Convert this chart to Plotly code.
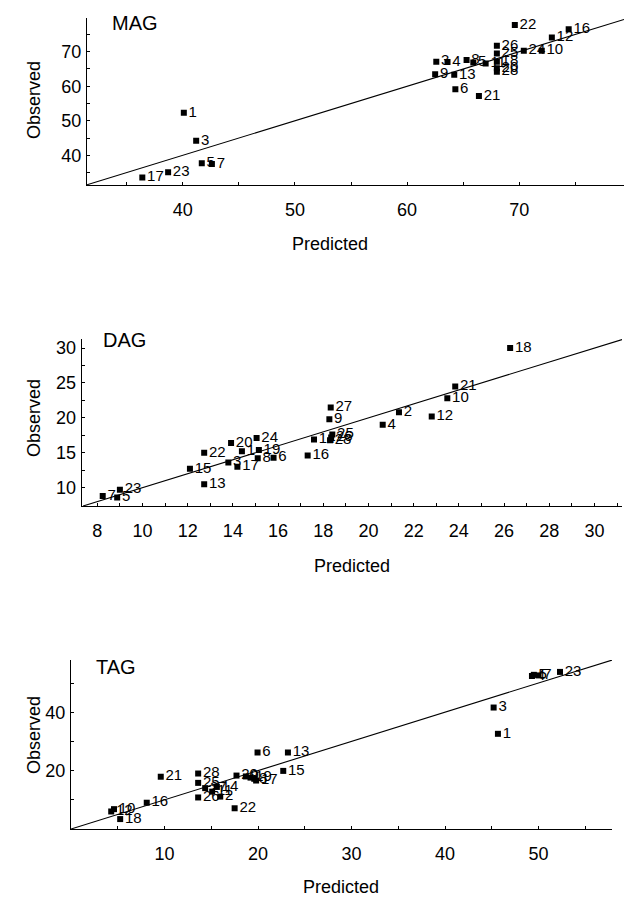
import plotly.graph_objects as go

W, H = 626, 898

# ---------------- data ----------------
mag_labels = ["1", "3", "5", "7", "17", "23",
              "22", "16", "12", "10", "24",
              "26", "25", "18", "20", "28",
              "3", "4", "8", "5", "11",
              "9", "13", "6", "21"]
mag_predicted = [40.1, 41.2, 41.7, 42.6, 36.4, 38.7,
                 69.6, 74.4, 72.9, 72.0, 70.4,
                 68.0, 68.0, 68.0, 68.0, 68.0,
                 62.6, 63.6, 65.3, 65.9, 67.0,
                 62.5, 64.2, 64.3, 66.4]
mag_observed = [52.3, 44.2, 37.7, 37.5, 33.6, 35.1,
                77.7, 76.5, 74.1, 70.3, 70.3,
                71.7, 69.5, 67.1, 65.2, 64.2,
                67.1, 67.0, 67.6, 66.9, 66.6,
                63.5, 63.3, 59.1, 57.2]

dag_labels = ["7", "5", "23", "15", "13", "22", "20", "24", "3", "1",
              "17", "19", "8", "6", "16", "14", "27", "9", "25", "26",
              "28", "18", "21", "10", "2", "12", "4"]
dag_predicted = [8.24, 8.88, 9.0, 12.1, 12.73, 12.73, 13.92, 15.05, 13.8, 14.4,
                 14.2, 15.15, 15.1, 15.8, 17.31, 17.59, 18.33, 18.27, 18.4, 18.35,
                 18.3, 26.27, 23.84, 23.49, 21.35, 22.8, 20.63]
dag_observed = [8.8, 8.6, 9.7, 12.7, 10.5, 15.0, 16.4, 17.1, 13.6, 15.2,
                13.0, 15.4, 14.2, 14.3, 14.6, 16.9, 21.5, 19.8, 17.6, 17.2,
                16.8, 30.0, 24.5, 22.8, 20.8, 20.2, 19.0]

tag_labels = ["1", "3", "4", "5", "7", "23", "6", "13", "15", "21",
              "28", "25", "27", "14", "11", "2", "26", "22", "16", "12",
              "10", "18", "20", "9", "19", "8", "17"]
tag_predicted = [45.66, 45.2, 49.3, 49.5, 50.0, 52.3, 19.95, 23.2, 22.7, 9.6,
                 13.6, 13.6, 14.35, 15.6, 15.1, 15.96, 13.6, 17.5, 8.1, 4.3,
                 4.6, 5.26, 17.7, 18.7, 19.2, 19.6, 19.8]
tag_observed = [32.6, 41.6, 52.4, 52.8, 52.6, 53.8, 26.2, 26.2, 19.9, 17.9,
                19.0, 15.8, 14.0, 14.4, 12.8, 11.1, 10.8, 7.1, 9.0, 6.0,
                6.8, 3.4, 18.3, 18.0, 17.6, 17.2, 16.6]

# tick positions / labels
mag_tickvals = [35, 40, 45, 50, 55, 60, 65, 70, 75]
mag_ticktext = ["", "40", "", "50", "", "60", "", "70", ""]
dag_xtickvals = list(range(8, 32))
dag_xticktext = [str(v) if v % 2 == 0 else "" for v in dag_xtickvals]
dag_ytickvals = [7.5, 10, 12.5, 15, 17.5, 20, 22.5, 25, 27.5, 30]
dag_yticktext = ["", "10", "", "15", "", "20", "", "25", "", "30"]
tag_xtickvals = [5, 10, 15, 20, 25, 30, 35, 40, 45, 50, 55]
tag_xticktext = ["", "10", "", "20", "", "30", "", "40", "", "50", ""]
tag_ytickvals = [10, 20, 30, 40, 50]
tag_yticktext = ["", "20", "", "40", ""]

FONT = "Liberation Sans, Arial, Helvetica, sans-serif"

panels = [
    dict(name="MAG", lab=mag_labels, x=mag_predicted, y=mag_observed,
         xr=[31.47, 79.33], yr=[31.4, 79.9], xpx=[87, 624], ypx=[17.5, 185],
         xtv=mag_tickvals, xtt=mag_ticktext, ytv=mag_tickvals, ytt=mag_ticktext,
         title_px=(110, 23), obs_px=(34, 100), pred_px=(330, 244)),
    dict(name="DAG", lab=dag_labels, x=dag_predicted, y=dag_observed,
         xr=[7.31, 31.22], yr=[7.37, 31.3], xpx=[81.7, 622], ypx=[339, 506],
         xtv=dag_xtickvals, xtt=dag_xticktext, ytv=dag_ytickvals, ytt=dag_yticktext,
         title_px=(101, 340), obs_px=(34, 418), pred_px=(352, 566)),
    dict(name="TAG", lab=tag_labels, x=tag_predicted, y=tag_observed,
         xr=[0, 57.86], yr=[0, 57.88], xpx=[71, 612], ypx=[660, 829],
         xtv=tag_xtickvals, xtt=tag_xticktext, ytv=tag_ytickvals, ytt=tag_yticktext,
         title_px=(94, 667), obs_px=(34, 735), pred_px=(341, 887)),
]

fig = go.Figure()
layout = dict(width=W, height=H, margin=dict(l=0, r=0, t=0, b=0),
              paper_bgcolor="white", plot_bgcolor="white", showlegend=False,
              font=dict(family=FONT, color="black", size=18))
annotations = []

for i, p in enumerate(panels, start=1):
    xa = "x" if i == 1 else f"x{i}"
    ya = "y" if i == 1 else f"y{i}"
    xkey = "xaxis" if i == 1 else f"xaxis{i}"
    ykey = "yaxis" if i == 1 else f"yaxis{i}"
    xdom = [p["xpx"][0] / W, p["xpx"][1] / W]
    ydom = [1 - p["ypx"][1] / H, 1 - p["ypx"][0] / H]

    # identity line
    lo = max(p["xr"][0], p["yr"][0])
    hi = min(p["xr"][1], p["yr"][1])
    fig.add_trace(go.Scatter(x=[lo, hi], y=[lo, hi], mode="lines",
                             line=dict(color="black", width=1.1),
                             xaxis=xa, yaxis=ya, hoverinfo="skip"))
    # labels (under markers)
    fig.add_trace(go.Scatter(x=p["x"], y=p["y"], mode="markers+text", text=p["lab"],
                             textposition="middle right",
                             textfont=dict(family=FONT, size=15, color="black"),
                             marker=dict(symbol="square", size=6, color="rgba(0,0,0,0)"),
                             xaxis=xa, yaxis=ya))
    # markers
    fig.add_trace(go.Scatter(x=p["x"], y=p["y"], mode="markers",
                             marker=dict(symbol="square", size=6, color="black"),
                             xaxis=xa, yaxis=ya))

    common = dict(showgrid=False, zeroline=False, ticklen=3, tickwidth=1,
                  tickcolor="black", tickfont=dict(family=FONT, size=18, color="black"))
    layout[xkey] = dict(domain=xdom, range=p["xr"], anchor=ya, tickmode="array",
                        tickvals=p["xtv"], ticktext=p["xtt"], ticks="inside",
                        showline=True, linecolor="black", linewidth=1.2,
                        ticklabelstandoff=8, **common)
    layout[ykey] = dict(domain=ydom, range=p["yr"], anchor=xa, tickmode="array",
                        tickvals=p["ytv"], ticktext=p["ytt"], ticks="inside",
                        showline=True, linecolor="black", linewidth=1.2,
                        ticklabelstandoff=1, **common)
    # overlay axes for the outer half of crossing ticks
    j = i + 3
    layout[f"xaxis{j}"] = dict(overlaying=xa, range=p["xr"], anchor=ya, tickmode="array",
                               tickvals=p["xtv"], ticks="outside", showticklabels=False,
                               showline=False, **common)
    layout[f"yaxis{j}"] = dict(overlaying=ya, range=p["yr"], anchor=xa, tickmode="array",
                               tickvals=p["ytv"], ticks="outside", showticklabels=False,
                               showline=False, **common)

    tx, ty = p["title_px"]
    annotations.append(dict(text=p["name"], x=tx / W, y=1 - ty / H, xref="paper", yref="paper",
                            xanchor="left", yanchor="middle", showarrow=False,
                            font=dict(family=FONT, size=20, color="black")))
    ox, oy = p["obs_px"]
    annotations.append(dict(text="Observed", x=ox / W, y=1 - oy / H, xref="paper", yref="paper",
                            xanchor="center", yanchor="middle", showarrow=False, textangle=-90,
                            font=dict(family=FONT, size=18, color="black")))
    qx, qy = p["pred_px"]
    annotations.append(dict(text="Predicted", x=qx / W, y=1 - qy / H, xref="paper", yref="paper",
                            xanchor="center", yanchor="middle", showarrow=False,
                            font=dict(family=FONT, size=18, color="black")))

layout["annotations"] = annotations
fig.update_layout(**layout)
fig.write_html("out.html", config={"displayModeBar": False},
               post_script="document.body.style.margin='0px';")
